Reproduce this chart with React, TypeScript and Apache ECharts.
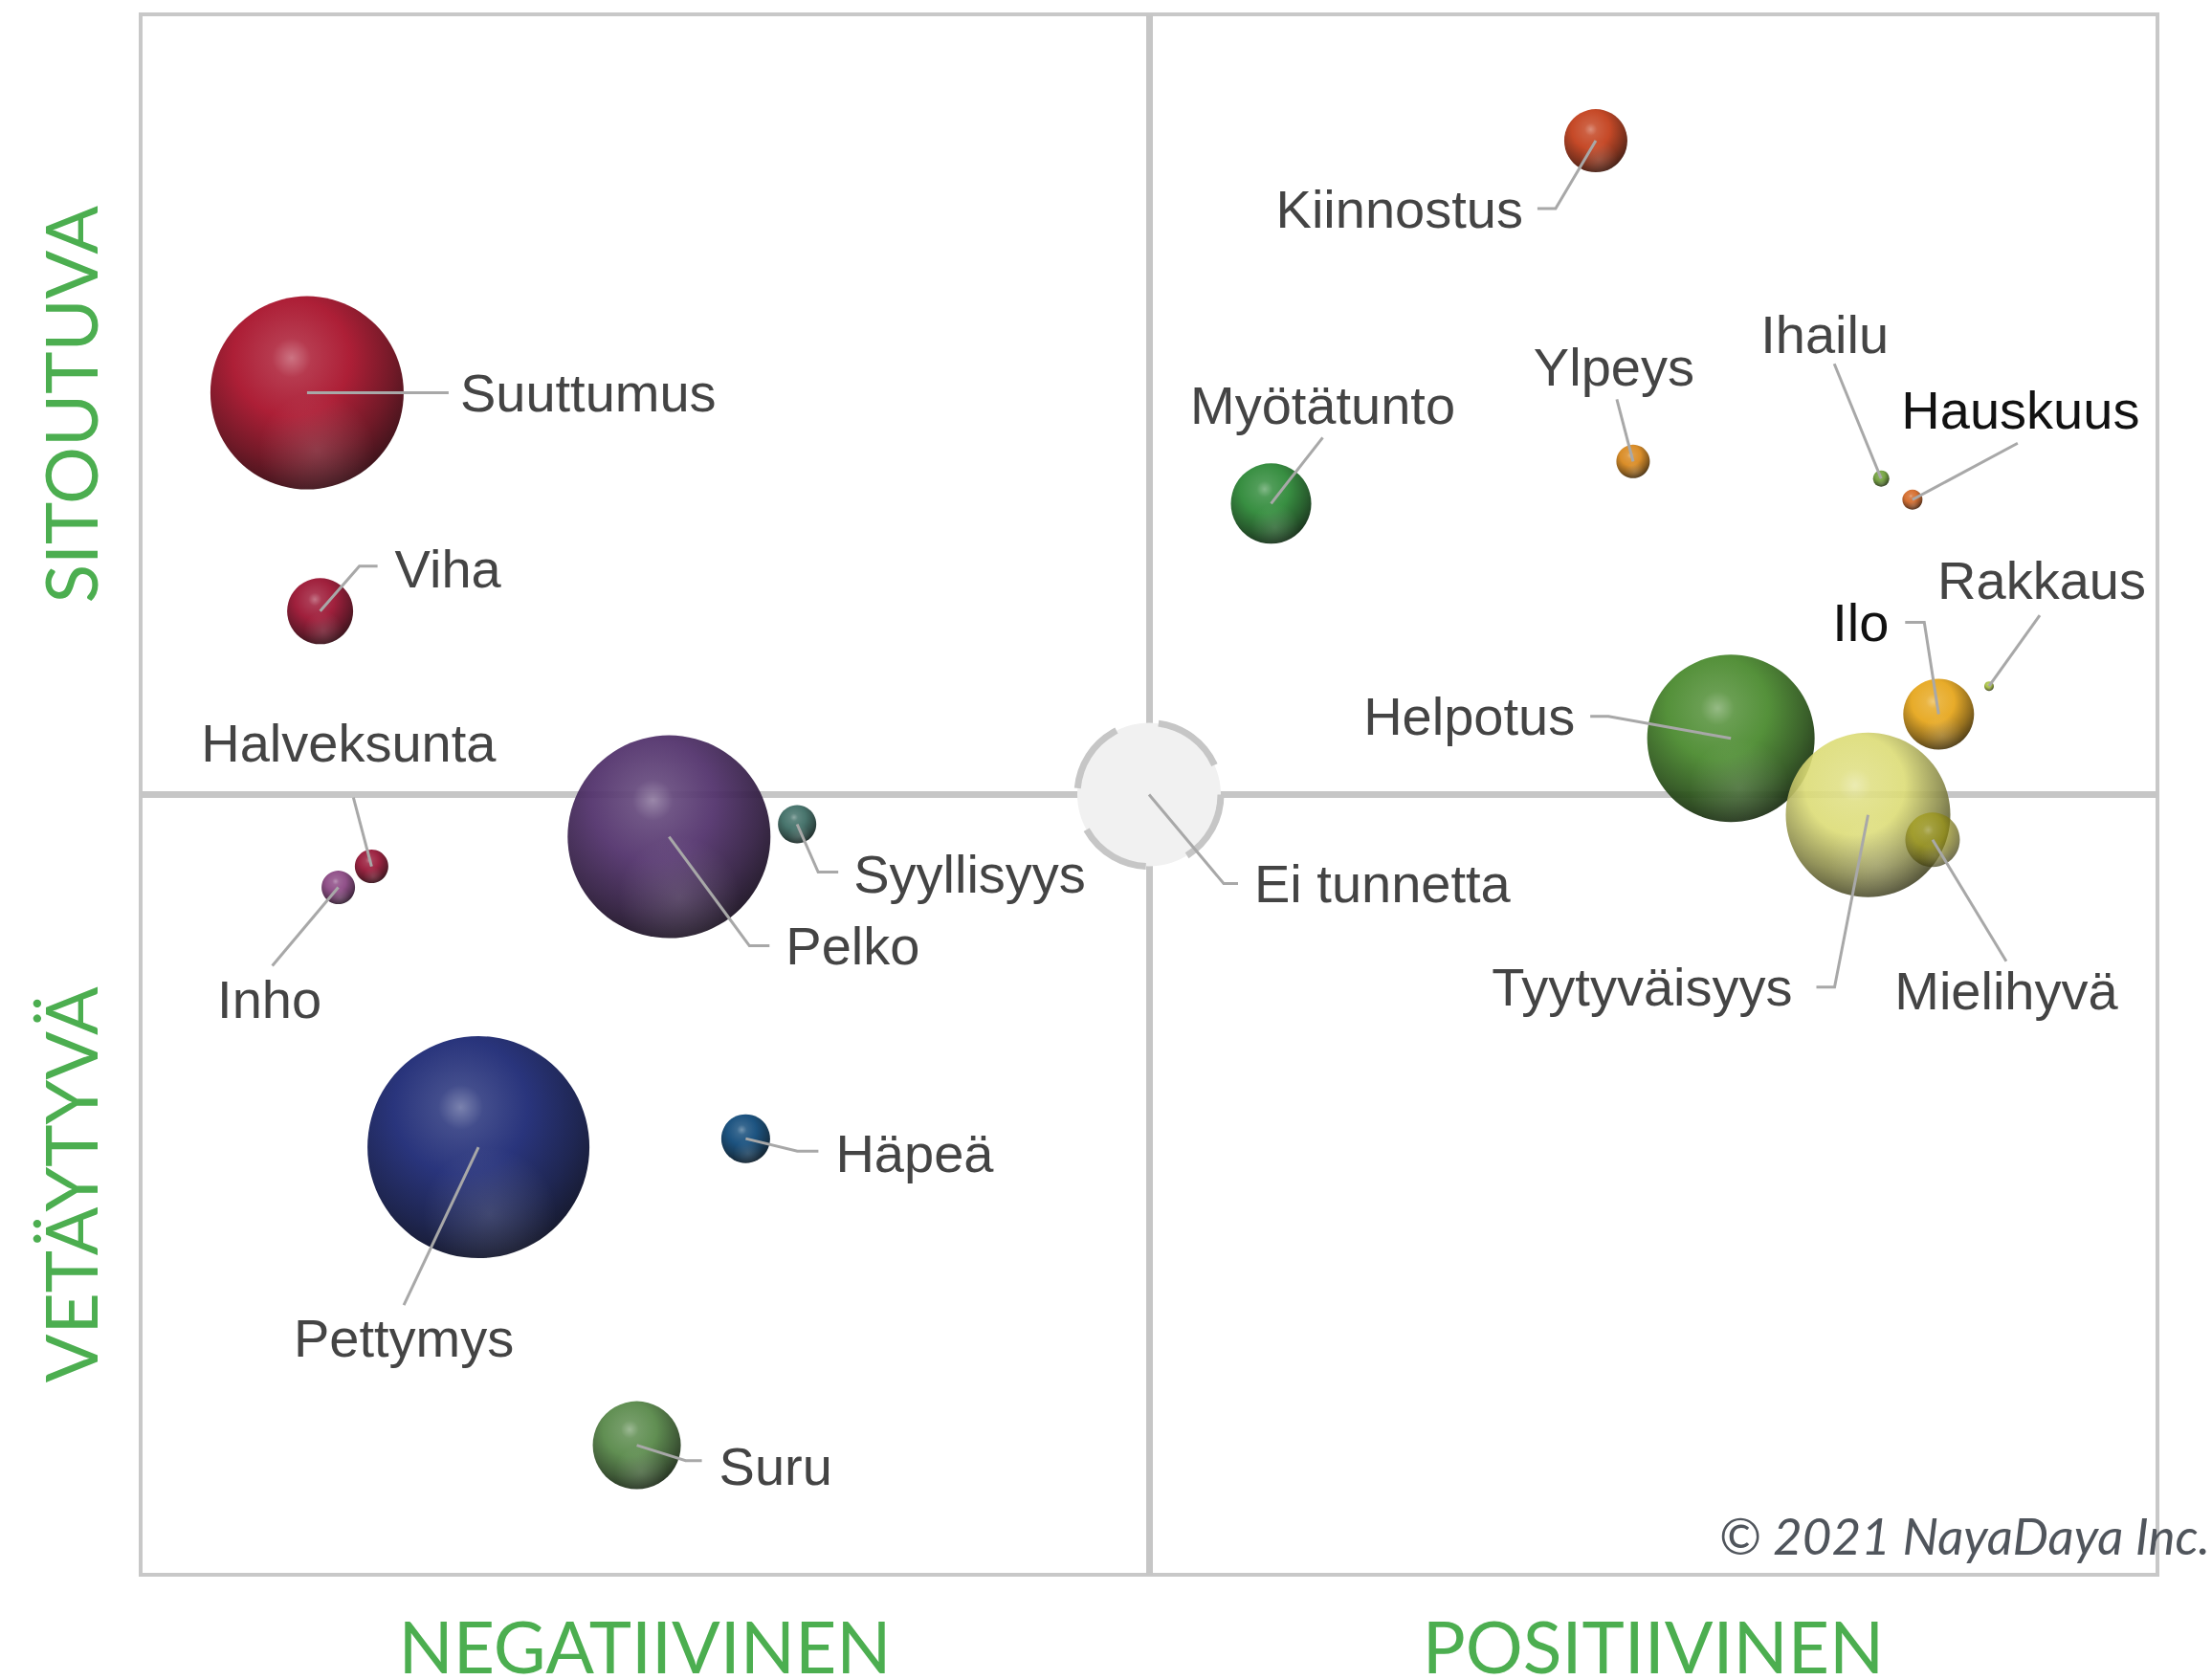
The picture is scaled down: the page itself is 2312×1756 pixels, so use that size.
import React, { useEffect, useRef } from 'react';
import * as echarts from 'echarts';

// ---- data ----
const emotions = [
  'Suuttumus', 'Viha', 'Halveksunta', 'Inho', 'Pelko', 'Syyllisyys', 'Pettymys', 'Häpeä', 'Suru',
  'Ei tunnetta', 'Kiinnostus', 'Myötätunto', 'Ylpeys', 'Ihailu', 'Hauskuus', 'Helpotus',
  'Tyytyväisyys', 'Ilo', 'Rakkaus', 'Mielihyvä',
];
// x: negatiivinen (-) ... positiivinen (+)
const valence = [-83.5, -82.2, -77.1, -80.4, -47.6, -34.9, -66.5, -40.0, -50.8, 0, 44.3, 12.1, 48.0, 72.6, 75.7, 57.7, 71.3, 78.3, 83.3, 77.7];
// y: vetäytyvä (-) ... sitoutuva (+)
const engagement = [51.5, 23.5, -9.2, -11.9, -5.4, -3.8, -45.2, -44.1, -83.4, 0, 83.8, 37.3, 42.7, 40.5, 37.8, 7.2, -2.6, 10.3, 13.9, -5.8];
// bubble intensity
const intensity = [202, 69, 35, 35, 212, 40, 232, 51, 92, 150, 66, 84, 35, 17, 21, 175, 172, 74, 10, 57];

const xTickLabels: Record<string, string> = { '-50': 'NEGATIIVINEN', '50': 'POSITIIVINEN' };
const yTickLabels: Record<string, string> = { '-50': 'VETÄYTYVÄ', '50': 'SITOUTUVA' };
const copyrightText = '© 2021 NayaDaya Inc.';
const neutralName = 'Ei tunnetta';

// ---- styles ----
const palette = [
  '#a8112a', '#9a1230', '#961636', '#8a4682', '#52326c', '#3d6c64', '#1c2874', '#0e4878', '#578848',
  '#f1f1f1', '#c23e1a', '#2c8836', '#d8871c', '#70a03a', '#d46826', '#4a8a2e',
  '#dcdc76', '#e6a61c', '#a8c040', '#9c9614',
];
const opacityOf: Record<string, number> = { 'Tyytyväisyys': 0.9, 'Mielihyvä': 0.7 };

// leader line layout (pixel offsets from bubble centre) and label placement
type Leader = { pts: number[][]; t: number[]; a: 'left' | 'right' | 'center'; dark?: boolean };
const leaders: Leader[] = [
  { pts: [[148, 0]], t: [160, 0], a: 'left' },
  { pts: [[41, -47], [60, -47]], t: [78, -44], a: 'left' },
  { pts: [[-19, -72]], t: [-24, -129], a: 'center' },
  { pts: [[-69, 82]], t: [-72, 117], a: 'center' },
  { pts: [[84, 114], [105, 114]], t: [122, 114], a: 'left' },
  { pts: [[22, 50], [43, 50]], t: [59, 52], a: 'left' },
  { pts: [[-78, 165]], t: [-78, 199], a: 'center' },
  { pts: [[54, 13], [76, 13]], t: [94, 15], a: 'left' },
  { pts: [[51, 16], [68, 16]], t: [86, 22], a: 'left' },
  { pts: [[78, 93], [93, 93]], t: [110, 93], a: 'left' },
  { pts: [[-42, 71], [-61, 71]], t: [-76, 71], a: 'right' },
  { pts: [[54, -69]], t: [54, -103], a: 'center' },
  { pts: [[-17, -65]], t: [-20, -99], a: 'center' },
  { pts: [[-49, -120]], t: [-59, -151], a: 'center' },
  { pts: [[110, -59]], t: [113, -94], a: 'center', dark: true },
  { pts: [[-128, -23], [-147, -23]], t: [-163, -23], a: 'right' },
  { pts: [[-35, 180], [-54, 180]], t: [-79, 180], a: 'right' },
  { pts: [[-15, -96], [-35, -96]], t: [-52, -96], a: 'right', dark: true },
  { pts: [[53, -74]], t: [55, -111], a: 'center' },
  { pts: [[77, 127]], t: [77, 158], a: 'center' },
];

function mix(hex: string, t: number): string {
  const n = parseInt(hex.slice(1), 16);
  let r = (n >> 16) & 255, g = (n >> 8) & 255, b = n & 255;
  const target = t > 0 ? 255 : 0;
  const a = Math.abs(t);
  r = Math.round(r + (target - r) * a);
  g = Math.round(g + (target - g) * a);
  b = Math.round(b + (target - b) * a);
  return `rgb(${r},${g},${b})`;
}

function sphere(base: string) {
  return {
    type: 'radial', x: 0.42, y: 0.32, r: 0.72,
    colorStops: [
      { offset: 0, color: mix(base, 0.38) },
      { offset: 0.14, color: mix(base, 0.12) },
      { offset: 0.42, color: base },
      { offset: 0.74, color: mix(base, -0.38) },
      { offset: 1, color: mix(base, -0.75) },
    ],
  };
}

const reflection = {
  type: 'radial', x: 0.55, y: 0.8, r: 0.3,
  colorStops: [
    { offset: 0, color: 'rgba(255,255,255,0.18)' },
    { offset: 1, color: 'rgba(255,255,255,0)' },
  ],
};

export default function App() {
  const ref = useRef<HTMLDivElement>(null);
  useEffect(() => {
    if (!ref.current) return;
    const chart = echarts.init(ref.current, null, { renderer: 'svg' });

    const bubbleData = emotions.map((name, i) => {
      const isNeutral = name === neutralName;
      return {
        name,
        value: [valence[i], engagement[i], intensity[i]],
        itemStyle: isNeutral
          ? {
              color: palette[i], borderColor: '#c6c6c6', borderWidth: 7,
              borderType: [76, 45], borderDashOffset: 7, opacity: 1,
            }
          : { color: sphere(palette[i]), opacity: opacityOf[name] ?? 0.94 },
      };
    });
    const reflectData = emotions.map((name, i) => ({
      name,
      value: [valence[i], engagement[i], intensity[i]],
      itemStyle: { color: name === neutralName ? 'rgba(0,0,0,0)' : reflection },
    }));
    const labelData = emotions.map((name, i) => [valence[i], engagement[i], i]);

    const axisLabelFont = { fontFamily: 'Lato', fontSize: 75, color: '#4cae50', lineHeight: 58 };

    chart.setOption({
      animation: false,
      backgroundColor: '#ffffff',
      grid: {
        left: 147, right: 57, top: 15, bottom: 110,
        outerBoundsMode: 'none', containLabel: false,
        show: true, borderColor: '#c8c8c8', borderWidth: 4, backgroundColor: 'transparent',
      },
      xAxis: {
        type: 'value', min: -100, max: 100, interval: 50,
        axisLine: { show: false }, axisTick: { show: false }, splitLine: { show: false },
        axisLabel: {
          ...axisLabelFont, margin: 45,
          formatter: (v: number) => xTickLabels[String(v)] ?? '',
        },
      },
      yAxis: {
        type: 'value', min: -100, max: 100, interval: 50,
        axisLine: { show: false }, axisTick: { show: false }, splitLine: { show: false },
        axisLabel: {
          ...axisLabelFont, margin: 45, rotate: 90,
          formatter: (v: number) => yTickLabels[String(v)] ?? '',
        },
      },
      graphic: [
        {
          type: 'text', x: 2310, y: 1604, z: 10,
          style: {
            text: copyrightText, fill: '#50555c', align: 'right', verticalAlign: 'middle',
            font: 'italic 53px Lato',
          },
        },
      ],
      series: [
        {
          type: 'scatter', z: 3, silent: true,
          symbolSize: (v: number[]) => v[2],
          emphasis: { disabled: true },
          data: bubbleData,
          markLine: {
            silent: true, z: 1, symbol: ['none', 'none'], animation: false,
            label: { show: false },
            lineStyle: { color: '#c6c6c6', width: 7, type: 'solid' },
            data: [{ xAxis: 0 }, { yAxis: 0 }],
          },
        },
        {
          type: 'scatter', z: 4, silent: true,
          symbolSize: (v: number[]) => v[2],
          emphasis: { disabled: true },
          data: reflectData,
        },
        {
          type: 'custom', z: 6, silent: true, clip: false,
          encode: { x: 0, y: 1 },
          data: labelData,
          renderItem: (params: any, api: any) => {
            const i = api.value(2);
            const c = api.coord([api.value(0), api.value(1)]);
            const L = leaders[i];
            const pts = [[c[0], c[1]], ...L.pts.map((p) => [c[0] + p[0], c[1] + p[1]])];
            return {
              type: 'group',
              children: [
                {
                  type: 'polyline',
                  shape: { points: pts },
                  style: { stroke: '#a8a8a8', lineWidth: 3, fill: null },
                },
                {
                  type: 'text',
                  x: c[0] + L.t[0], y: c[1] + L.t[1],
                  style: {
                    text: emotions[i], fill: L.dark ? '#111111' : '#444444',
                    fontFamily: 'Liberation Sans, Arial, sans-serif', fontSize: 56,
                    align: L.a, verticalAlign: 'middle',
                  },
                },
              ],
            };
          },
        },
      ],
    });
    return () => chart.dispose();
  }, []);
  return <div ref={ref} style={{ position: 'fixed', left: 0, top: 0, width: 2312, height: 1756 }} />;
}
